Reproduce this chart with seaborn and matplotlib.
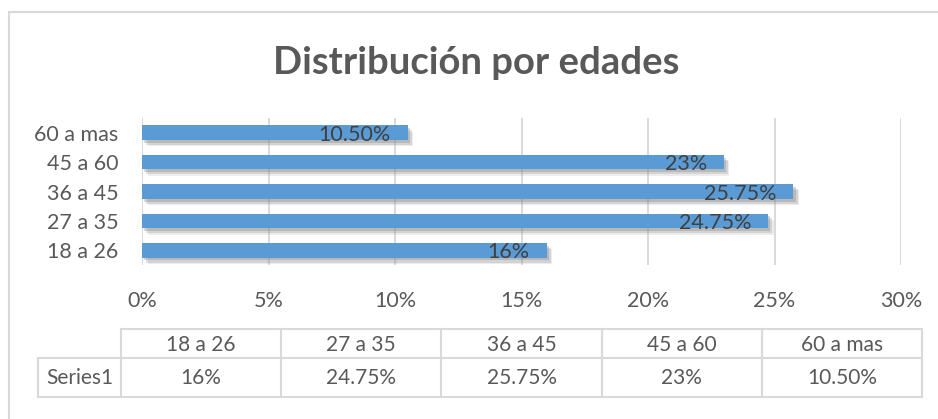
import matplotlib
matplotlib.use("Agg")
import matplotlib.pyplot as plt
import matplotlib.patheffects as pe
from matplotlib.patches import Rectangle
from matplotlib.lines import Line2D
import seaborn as sns
import pandas as pd

# ---- data ----
categories = ["18 a 26", "27 a 35", "36 a 45", "45 a 60", "60 a mas"]
values = [0.16, 0.2475, 0.2575, 0.23, 0.105]
value_labels = ["16%", "24.75%", "25.75%", "23%", "10.50%"]
series_name = "Series1"
x_ticks = [0, 0.05, 0.10, 0.15, 0.20, 0.25, 0.30]
x_tick_labels = ["0%", "5%", "10%", "15%", "20%", "25%", "30%"]
title = "Distribución por edades"

sns.set_theme(style="white")
FONT = ["Lato", "DejaVu Sans"]
plt.rcParams["font.family"] = FONT

W, H = 938, 419
fig = plt.figure(figsize=(W / 100, H / 100), dpi=100)
fig.patch.set_facecolor("white")

def fx(px):
    return px / W

def fy(py):
    return 1 - py / H

GRID = "#d9d9d9"
TXT = "#595959"
BAR = "#5b9bd5"

# outer chart frame
fig.add_artist(Rectangle((fx(9), fy(430)), fx(950 - 9), (430 - 12) / H,
                         transform=fig.transFigure, fill=False,
                         edgecolor=GRID, linewidth=1.5))

# title
fig.text(fx(476), fy(74), title, ha="center", va="baseline",
         fontsize=27.5, fontweight="bold", color=TXT)

# plot axes
ax = fig.add_axes([fx(142), fy(265), fx(901 - 142), (265 - 118) / H])
df = pd.DataFrame({"cat": categories, "val": values, "lab": value_labels})
order = categories[::-1]
sns.barplot(data=df, x="val", y="cat", order=order, orient="h",
            color=BAR, width=0.5, saturation=1, ax=ax, zorder=3)

for p in ax.patches:
    p.set_path_effects([
        pe.SimplePatchShadow(offset=(4, -4.5), shadow_rgbFace="#9a9a9a", alpha=0.18),
        pe.SimplePatchShadow(offset=(3, -3.5), shadow_rgbFace="#8a8a8a", alpha=0.25),
        pe.SimplePatchShadow(offset=(1.5, -2), shadow_rgbFace="#7a7a7a", alpha=0.3),
        pe.Normal()])
    p.set_edgecolor("none")

ax.set_xlim(0, 0.30)
ax.set_ylim(len(categories) - 0.5, -0.5)
ax.set_xticks(x_ticks)
ax.set_xticklabels(x_tick_labels)
ax.set_xlabel("")
ax.set_ylabel("")
ax.grid(axis="x", color=GRID, linewidth=1.4, zorder=0)
ax.grid(axis="y", visible=False)
ax.set_axisbelow(True)
for s in ax.spines.values():
    s.set_visible(False)
ax.tick_params(axis="x", length=0, pad=19, labelsize=15.5, labelcolor=TXT)
ax.tick_params(axis="y", length=0, pad=17, labelsize=15.5, labelcolor=TXT)
ax.set_facecolor("none")

# data labels (inside end)
for i, cat in enumerate(order):
    row = df[df["cat"] == cat].iloc[0]
    ax.annotate(row["lab"], xy=(row["val"], i), xytext=(-17, -2),
                textcoords="offset pixels", ha="right", va="center",
                fontsize=15.5, color="#404040", zorder=5)

# data table
col_left = 121
col_w = (922 - 121) / len(categories)
y_top, y_mid, y_bot = 329, 358, 397
lab_left = 38

def hline(x0, x1, y):
    fig.add_artist(Line2D([fx(x0), fx(x1)], [fy(y), fy(y)], transform=fig.transFigure,
                          color=GRID, linewidth=1.5))

def vline(x, y0, y1):
    fig.add_artist(Line2D([fx(x), fx(x)], [fy(y0), fy(y1)], transform=fig.transFigure,
                          color=GRID, linewidth=1.5))

hline(col_left, 922, y_top)
hline(lab_left, 922, y_mid)
hline(lab_left, 922, y_bot)
vline(lab_left, y_mid, y_bot)
for k in range(len(categories) + 1):
    vline(col_left + k * col_w, y_top, y_bot)

for k, (cat, lab) in enumerate(zip(categories, value_labels)):
    cx = col_left + (k + 0.5) * col_w
    fig.text(fx(cx), fy((y_top + y_mid) / 2 + 1), cat, ha="center", va="center",
             fontsize=15, color=TXT)
    fig.text(fx(cx), fy((y_mid + y_bot) / 2), lab, ha="center", va="center",
             fontsize=15, color=TXT)
fig.text(fx((lab_left + col_left) / 2), fy((y_mid + y_bot) / 2), series_name,
         ha="center", va="center", fontsize=15, color=TXT)

fig.savefig("out.png", dpi=100, facecolor="white")
